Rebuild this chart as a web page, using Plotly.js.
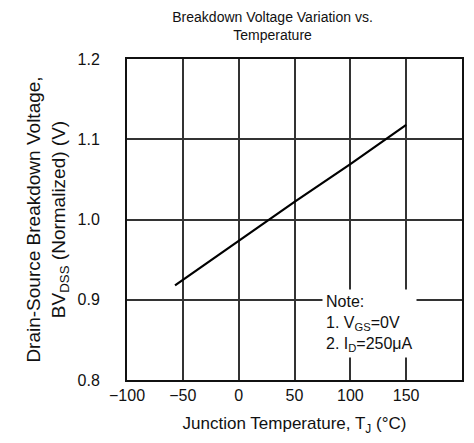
<!DOCTYPE html>
<html>
<head>
<meta charset="utf-8">
<script src="https://cdn.plot.ly/plotly-3.0.1.min.js"></script>
<style>html,body{margin:0;padding:0;background:#fff;}#chart{width:474px;height:443px;}</style>
</head>
<body>
<div id="chart"></div>
<script>
// Junction temperature (°C) and normalized breakdown voltage
const temperature = [-57, 0, 50, 100, 150];
const bvdssNormalized = [0.918, 0.973, 1.022, 1.069, 1.118];
const xTickValues = [-100, -50, 0, 50, 100, 150, 200];
const yTickValues = [0.8, 0.9, 1.0, 1.1, 1.2];
const yTickLabels = ['0.8', '0.9', '1.0', '1.1', '1.2'];

const FONT = 'Liberation Sans, Arial, sans-serif';

const trace = {
  x: temperature,
  y: bvdssNormalized,
  mode: 'lines',
  line: {color: '#000', width: 2.2},
  hoverinfo: 'skip',
  showlegend: false
};

const layout = {
  width: 474,
  height: 443,
  paper_bgcolor: '#fff',
  plot_bgcolor: '#fff',
  margin: {l: 127, r: 12, t: 59, b: 63},
  font: {family: FONT, color: '#111'},
  title: {
    text: 'Breakdown Voltage Variation vs.<br>Temperature',
    font: {family: FONT, size: 14, color: '#111'},
    x: 0.575, xanchor: 'center',
    yref: 'container', y: 0.95, yanchor: 'middle'
  },
  xaxis: {
    range: [-100, 200],
    tickvals: xTickValues,
    ticks: '',
    showgrid: true,
    gridcolor: '#333',
    gridwidth: 2,
    zeroline: false,
    showline: true,
    linecolor: '#111',
    linewidth: 2,
    mirror: true,
    tickfont: {family: FONT, size: 16, color: '#111'},
    title: {
      text: 'Junction Temperature, T<sub>J</sub> (°C)',
      font: {family: FONT, size: 17, color: '#111'},
      standoff: 14
    }
  },
  yaxis: {
    range: [0.8, 1.2],
    tickvals: yTickValues,
    ticktext: yTickLabels,
    ticks: '',
    ticklabelstandoff: 22,
    showgrid: true,
    gridcolor: '#333',
    gridwidth: 2,
    zeroline: false,
    showline: true,
    linecolor: '#111',
    linewidth: 2,
    mirror: true,
    tickfont: {family: FONT, size: 16, color: '#111'},
    title: {
      text: 'Drain-Source Breakdown Voltage,<br>BV<sub>DSS</sub> (Normalized) (V)',
      font: {family: FONT, size: 19, color: '#111'},
      standoff: 7
    }
  },
  annotations: [{
    xref: 'x', yref: 'y',
    x: 75, y: 0.913,
    xanchor: 'left', yanchor: 'top',
    align: 'left',
    showarrow: false,
    bgcolor: '#fff',
    borderpad: 3,
    text: 'Note:<br>1. V<sub>GS</sub>=0V<br>2. I<sub>D</sub>=250μA',
    font: {family: FONT, size: 16, color: '#111'}
  }]
};

Plotly.newPlot('chart', [trace], layout, {displayModeBar: false, staticPlot: true});
</script>
</body>
</html>
